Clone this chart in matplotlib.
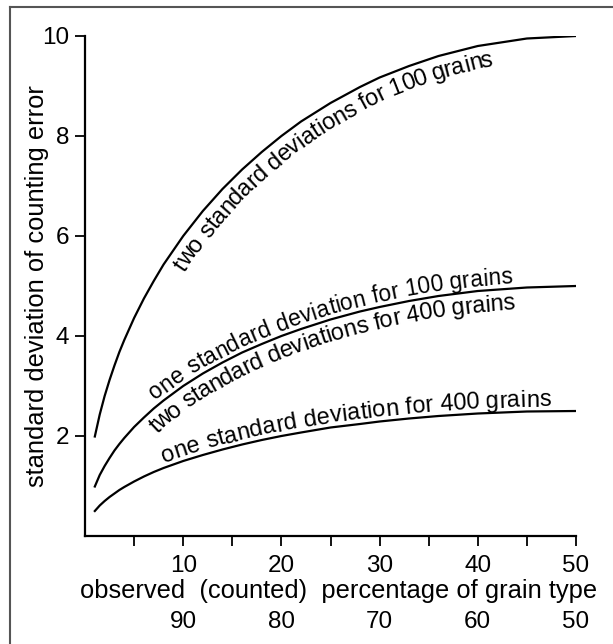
import numpy as np
import matplotlib
matplotlib.use("Agg")
import matplotlib.pyplot as plt
from matplotlib.transforms import IdentityTransform, blended_transform_factory
from matplotlib.font_manager import FontProperties
from matplotlib.lines import Line2D

# ---- data ----
pct = [1, 1.5, 2, 2.5, 3, 3.5, 4, 5, 6, 7, 8, 10, 12, 14, 16, 18, 20, 22, 25, 28, 30, 33, 36, 40, 45, 50]
two_sd_100 = [1.99, 2.43, 2.80, 3.12, 3.41, 3.68, 3.92, 4.36, 4.75, 5.10, 5.43, 6.00, 6.50, 6.94, 7.33,
              7.68, 8.00, 8.29, 8.66, 8.98, 9.17, 9.40, 9.60, 9.80, 9.95, 10.00]
one_sd_100 = [0.99, 1.22, 1.40, 1.56, 1.71, 1.84, 1.96, 2.18, 2.37, 2.55, 2.71, 3.00, 3.25, 3.47, 3.67,
              3.84, 4.00, 4.14, 4.33, 4.49, 4.58, 4.70, 4.80, 4.90, 4.97, 5.00]
one_sd_400 = [0.50, 0.61, 0.70, 0.78, 0.85, 0.92, 0.98, 1.09, 1.19, 1.28, 1.36, 1.50, 1.62, 1.73, 1.83,
              1.92, 2.00, 2.07, 2.17, 2.24, 2.29, 2.35, 2.40, 2.45, 2.49, 2.50]

x_major = [10, 20, 30, 40, 50]
x_minor = [5, 15, 25, 35, 45]
y_ticks = [2, 4, 6, 8, 10]
complement_pos = [10, 20, 30, 40, 50]
complement_labels = ["90", "80", "70", "60", "50"]

label_top = "two standard deviations for 100 grains"
label_mid_above = "one standard deviation for 100 grains"
label_mid_below = "two standard deviations for 400 grains"
label_low = "one standard deviation for 400 grains"

y_title = "standard deviation of counting error"
x_title = "observed  (counted)  percentage of grain type"

# ---- figure ----
plt.rcParams["font.family"] = ["Liberation Sans", "DejaVu Sans"]
FS_TICK = 17.5
FS_TITLE = 18.4
W, H = 613, 644
fig = plt.figure(figsize=(W / 100, H / 100), dpi=100)
ax = fig.add_axes([85 / W, 108 / H, 491 / W, 500 / H])

ln_top, = ax.plot(pct, two_sd_100, color="black", lw=1.6)
ln_mid, = ax.plot(pct, one_sd_100, color="black", lw=1.6)
ln_low, = ax.plot(pct, one_sd_400, color="black", lw=1.6)

ax.set_xlim(0, 50)
ax.set_ylim(0, 10)
for s in ["top", "right"]:
    ax.spines[s].set_visible(False)
for s in ["left", "bottom"]:
    ax.spines[s].set_linewidth(1.6)
ax.set_xticks(x_major)
ax.set_xticks(x_minor, minor=True)
ax.set_yticks(y_ticks)
ax.tick_params(axis="both", which="both", direction="out", length=7.5, width=1.3,
               labelsize=FS_TICK)
ax.tick_params(axis="x", which="both", pad=6)
ax.tick_params(axis="y", which="both", pad=4)

ax.set_ylabel(y_title, fontsize=FS_TITLE, va="center")
ax.yaxis.set_label_coords(-0.098, 0.5)

fig.text(80 / W, 46 / H, x_title, fontsize=FS_TITLE, ha="left", va="baseline")

btr = blended_transform_factory(ax.transData, IdentityTransform())
for xp, lab in zip(complement_pos, complement_labels):
    ax.text(xp, 16, lab, transform=btr, fontsize=FS_TICK, ha="center", va="baseline", clip_on=False)

# frame lines (top and left edges of the original picture border)
fig.add_artist(Line2D([10 / W, 1], [1 - 7 / H, 1 - 7 / H], transform=fig.transFigure,
                      color="#555555", lw=1.5))
fig.add_artist(Line2D([10 / W, 10 / W], [0, 1 - 7 / H], transform=fig.transFigure,
                      color="#555555", lw=1.5))

# ---- text along curves ----
fig.canvas.draw()
renderer = fig.canvas.get_renderer()


def curve_text(line, text, p_start, offset, size):
    fp = FontProperties(family=["Liberation Sans"], size=size)
    w_bar = renderer.get_text_width_height_descent("|", fp, ismath=False)[0]

    def adv(t):
        return renderer.get_text_width_height_descent(t + "|", fp, ismath=False)[0] - w_bar

    xd = np.asarray(line.get_xdata(), float)
    yd = np.asarray(line.get_ydata(), float)
    xy = ax.transData.transform(np.column_stack([xd, yd]))
    seg = np.hypot(*np.diff(xy, axis=0).T)
    s = np.concatenate([[0], np.cumsum(seg)])
    s0 = np.interp(p_start, xd, s)

    def pt(v):
        return np.array([np.interp(v, s, xy[:, 0]), np.interp(v, s, xy[:, 1])])

    for i, ch in enumerate(text):
        a = adv(text[:i])
        b = adv(text[:i + 1])
        sc = s0 + (a + b) / 2
        h = max((b - a) / 2, 4)
        p1, p2 = pt(sc - h), pt(sc + h)
        t = (p2 - p1) / np.hypot(*(p2 - p1))
        n = np.array([-t[1], t[0]])
        pos = pt(sc) + n * offset
        ang = np.degrees(np.arctan2(t[1], t[0]))
        if ch.strip():
            fig.text(pos[0], pos[1], ch, transform=IdentityTransform(), rotation=ang,
                     rotation_mode="anchor", ha="center", va="baseline", fontsize=size)


curve_text(ln_top, label_top, 8.3, -22, 17)
curve_text(ln_mid, label_mid_above, 7.5, 5, 16.5)
curve_text(ln_mid, label_mid_below, 5.9, -21, 17)
curve_text(ln_low, label_low, 8.2, 5, 17)

fig.savefig("out.png", dpi=100)
